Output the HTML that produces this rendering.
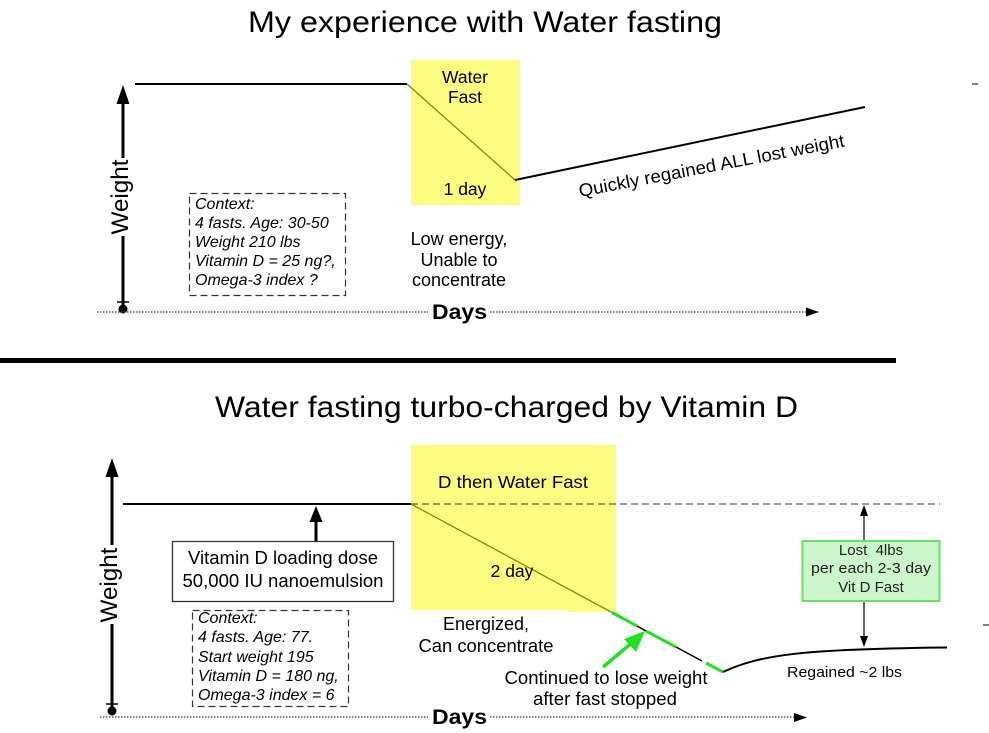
<!DOCTYPE html>
<html>
<head>
<meta charset="utf-8">
<style>
  html,body{margin:0;padding:0;background:#fff;}
  svg{display:block;}
  text{font-family:"Liberation Sans", Arial, sans-serif;fill:#000;}
</style>
</head>
<body>
<svg width="989" height="733" viewBox="0 0 989 733" xmlns="http://www.w3.org/2000/svg">
  <rect x="0" y="0" width="989" height="733" fill="#fff"/>

  <!-- ================= TOP PANEL ================= -->
  <text x="248" y="32" font-size="30" textLength="474" lengthAdjust="spacingAndGlyphs">My experience with Water fasting</text>

  <!-- yellow box -->
  <rect x="411" y="60" width="109" height="145" fill="#fcfc80"/>

  <!-- weight line -->
  <line x1="135" y1="84" x2="407" y2="84" stroke="#000" stroke-width="2"/>
  <line x1="407" y1="84" x2="515" y2="180" stroke="#8a8a00" stroke-width="1.3"/>
  <line x1="515" y1="180" x2="865" y2="107" stroke="#000" stroke-width="2"/>
  <line x1="972" y1="84" x2="978" y2="84" stroke="#000" stroke-width="1"/>

  <!-- y axis -->
  <line x1="123" y1="100" x2="123" y2="158" stroke="#000" stroke-width="3"/>
  <line x1="123" y1="236" x2="123" y2="308" stroke="#000" stroke-width="3"/>
  <polygon points="123,85 116.5,104 129.5,104" fill="#000"/>
  <line x1="117" y1="302" x2="129" y2="302" stroke="#000" stroke-width="1.5"/>
  <circle cx="123" cy="309" r="4.5" fill="#000"/>
  <text transform="translate(128,197) rotate(-90)" font-size="24" text-anchor="middle" textLength="75" lengthAdjust="spacingAndGlyphs">Weight</text>

  <!-- x axis -->
  <line x1="97" y1="312" x2="428" y2="312" stroke="#555" stroke-width="1.5" stroke-dasharray="1.5,1.5"/>
  <line x1="490" y1="312" x2="808" y2="312" stroke="#555" stroke-width="1.5" stroke-dasharray="1.5,1.5"/>
  <polygon points="819,312 806,307.5 806,316.5" fill="#000"/>
  <text x="432" y="319" font-size="21" font-weight="bold" textLength="55" lengthAdjust="spacingAndGlyphs">Days</text>

  <!-- context box -->
  <rect x="189.5" y="193.5" width="156" height="102" fill="none" stroke="#333" stroke-width="1.2" stroke-dasharray="7,4"/>
  <g font-size="16" font-style="italic">
    <text x="195" y="209">Context:</text>
    <text x="195" y="228">4 fasts. Age: 30-50</text>
    <text x="195" y="247">Weight 210 lbs</text>
    <text x="195" y="266">Vitamin D = 25 ng?,</text>
    <text x="195" y="285">Omega-3 index ?</text>
  </g>

  <!-- labels in yellow -->
  <g font-size="17.5" text-anchor="middle">
    <text x="465" y="83">Water</text>
    <text x="465" y="103">Fast</text>
    <text x="465" y="195">1 day</text>
  </g>
  <g font-size="18" text-anchor="middle">
    <text x="459" y="245">Low energy,</text>
    <text x="459" y="266">Unable to</text>
    <text x="459" y="286">concentrate</text>
  </g>

  <text transform="translate(580,197) rotate(-10.8)" font-size="18" textLength="270" lengthAdjust="spacingAndGlyphs">Quickly regained ALL lost weight</text>

  <!-- separator -->
  <rect x="0" y="358" width="896" height="5" fill="#000"/>

  <!-- ================= BOTTOM PANEL ================= -->
  <text x="215" y="417" font-size="30" textLength="583" lengthAdjust="spacingAndGlyphs">Water fasting turbo-charged by Vitamin D</text>

  <!-- yellow box -->
  <rect x="411" y="445" width="205" height="165" fill="#fcfc80"/>
  <rect x="567" y="605" width="49" height="7" fill="#fcfc80"/>

  <!-- weight line -->
  <line x1="123" y1="504" x2="411" y2="504" stroke="#000" stroke-width="2"/>
  <line x1="411" y1="504" x2="940" y2="504" stroke="#333" stroke-width="1.1" stroke-dasharray="7,4"/>
  <line x1="411" y1="504" x2="612" y2="612.5" stroke="#8a8a00" stroke-width="1.3"/>

  <!-- continued loss segments -->
  <g stroke-linecap="butt">
    <line x1="612" y1="612.5" x2="637" y2="626" stroke="#22e022" stroke-width="3"/>
    <line x1="637" y1="626" x2="646" y2="631" stroke="#000" stroke-width="1.5"/>
    <line x1="646" y1="631" x2="676" y2="647" stroke="#22e022" stroke-width="3"/>
    <line x1="676" y1="647" x2="702" y2="661" stroke="#000" stroke-width="1.5"/>
    <line x1="706" y1="663" x2="723" y2="672" stroke="#22e022" stroke-width="3"/>
  </g>
  <path d="M723,672 C760,655 800,649 947,647.5" fill="none" stroke="#000" stroke-width="2"/>
  <line x1="983" y1="625" x2="989" y2="625" stroke="#000" stroke-width="1"/>

  <!-- y axis -->
  <line x1="112" y1="472" x2="112" y2="545" stroke="#000" stroke-width="3"/>
  <line x1="112" y1="624" x2="112" y2="710" stroke="#000" stroke-width="3"/>
  <polygon points="112,458 105.5,477 118.5,477" fill="#000"/>
  <line x1="106" y1="704" x2="118" y2="704" stroke="#000" stroke-width="1.5"/>
  <circle cx="112" cy="711" r="4.5" fill="#000"/>
  <text transform="translate(117,585) rotate(-90)" font-size="24" text-anchor="middle" textLength="75" lengthAdjust="spacingAndGlyphs">Weight</text>

  <!-- x axis -->
  <line x1="100" y1="717" x2="428" y2="717" stroke="#555" stroke-width="1.5" stroke-dasharray="1.5,1.5"/>
  <line x1="490" y1="717" x2="795" y2="717" stroke="#555" stroke-width="1.5" stroke-dasharray="1.5,1.5"/>
  <polygon points="807,717.5 794,713 794,722" fill="#000"/>
  <text x="432" y="724" font-size="21" font-weight="bold" textLength="55" lengthAdjust="spacingAndGlyphs">Days</text>

  <!-- vitamin D box -->
  <rect x="172.5" y="541.5" width="221" height="60" fill="#fff" stroke="#333" stroke-width="1.3"/>
  <g font-size="18.5" text-anchor="middle">
    <text x="283" y="564" textLength="190" lengthAdjust="spacingAndGlyphs">Vitamin D loading dose</text>
    <text x="283" y="587" textLength="201" lengthAdjust="spacingAndGlyphs">50,000 IU nanoemulsion</text>
  </g>
  <line x1="316" y1="541" x2="316" y2="518" stroke="#000" stroke-width="3"/>
  <polygon points="316,506 309.5,522 322.5,522" fill="#000"/>

  <!-- context box -->
  <rect x="192.5" y="610.5" width="156" height="96" fill="none" stroke="#333" stroke-width="1.2" stroke-dasharray="7,4"/>
  <g font-size="16" font-style="italic">
    <text x="198" y="623">Context:</text>
    <text x="198" y="642">4 fasts. Age: 77.</text>
    <text x="198" y="662">Start weight 195</text>
    <text x="198" y="681">Vitamin D = 180 ng,</text>
    <text x="198" y="700">Omega-3 index = 6</text>
  </g>

  <!-- labels in yellow -->
  <g font-size="17.5" text-anchor="middle">
    <text x="513" y="488" textLength="150" lengthAdjust="spacingAndGlyphs">D then Water Fast</text>
    <text x="512" y="577">2 day</text>
  </g>
  <g font-size="18" text-anchor="middle">
    <text x="486" y="630">Energized,</text>
    <text x="486" y="652" textLength="135" lengthAdjust="spacingAndGlyphs">Can concentrate</text>
    <text x="606" y="684" textLength="203" lengthAdjust="spacingAndGlyphs">Continued to lose weight</text>
    <text x="605" y="705" textLength="144" lengthAdjust="spacingAndGlyphs">after fast stopped</text>
  </g>

  <!-- green arrow -->
  <line x1="603" y1="667" x2="634" y2="641" stroke="#22e022" stroke-width="3.5"/>
  <polygon points="645,631 624,639 636,652" fill="#22e022"/>

  <!-- lost arrow + green box -->
  <line x1="864" y1="515" x2="864" y2="541" stroke="#000" stroke-width="1.2"/>
  <polygon points="864,505 860,516 868,516" fill="#000"/>
  <line x1="864" y1="601" x2="864" y2="637" stroke="#000" stroke-width="1.2"/>
  <polygon points="864,647 860,636 868,636" fill="#000"/>
  <rect x="802.5" y="541" width="137" height="60" fill="#ccf7cc" stroke="#66e066" stroke-width="2"/>
  <g font-size="15" text-anchor="middle">
    <text x="871" y="555" style="fill:#222">Lost&#160; 4lbs</text>
    <text x="871" y="573" style="fill:#222" textLength="120" lengthAdjust="spacingAndGlyphs">per each 2-3 day</text>
    <text x="871" y="592" style="fill:#222">Vit D Fast</text>
  </g>

  <text x="787" y="677" font-size="15" textLength="115" lengthAdjust="spacingAndGlyphs">Regained ~2 lbs</text>
</svg>
</body>
</html>
